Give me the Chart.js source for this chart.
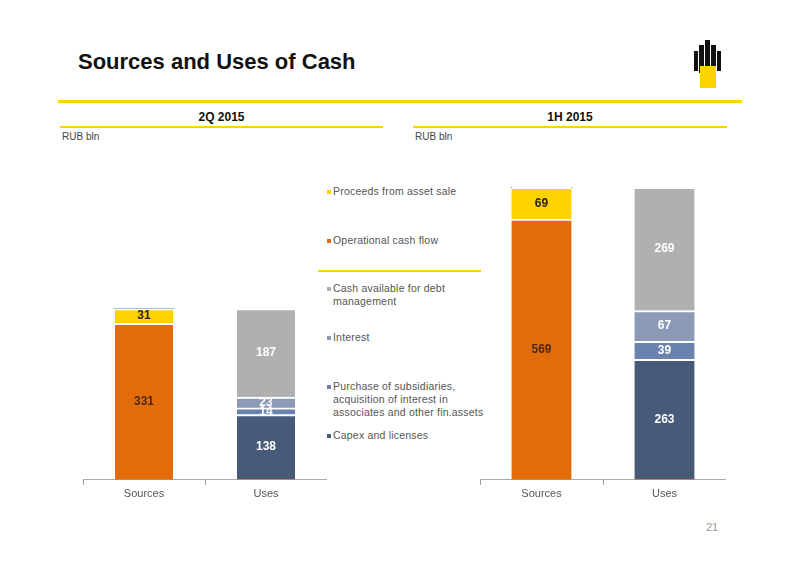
<!DOCTYPE html>
<html><head><meta charset="utf-8">
<script src="https://cdn.jsdelivr.net/npm/chart.js@4"></script>
<style>
body{margin:0;width:800px;height:566px;background:#fff;font-family:"Liberation Sans",Arial,sans-serif;position:relative;overflow:hidden}
.a{position:absolute}
.hl{position:absolute;background:#FFD200}
.sec{position:absolute;font-weight:bold;font-size:12px;color:#111;text-align:center}
.rub{position:absolute;font-size:10px;color:#444}
.lg{position:absolute;left:333px;font-size:10.5px;color:#555;line-height:13px;width:160px;letter-spacing:0.2px}
.lg i{position:absolute;left:-6px;top:5px;width:4px;height:4px}
</style></head><body>
<div class="a" style="left:78px;top:49px;font-size:22px;font-weight:bold;color:#111">Sources and Uses of Cash</div>
<svg class="a" style="left:690px;top:38px" width="36" height="52" viewBox="0 0 36 52">
<g fill="#111"><rect x="15" y="2" width="5" height="30"/><rect x="9" y="7" width="5" height="28"/><rect x="21" y="7" width="5" height="28"/><rect x="4" y="13" width="4" height="20"/><rect x="27" y="13" width="4" height="20"/></g>
<rect x="10" y="28" width="16" height="22" fill="#FFD200"/></svg>
<div class="hl" style="left:58px;top:100px;width:684px;height:3px"></div>
<div class="sec" style="left:60px;top:110px;width:323px">2Q 2015</div>
<div class="hl" style="left:60px;top:126px;width:323px;height:2px"></div>
<div class="sec" style="left:413px;top:110px;width:314px">1H 2015</div>
<div class="hl" style="left:413px;top:126px;width:314px;height:2px"></div>
<div class="rub" style="left:62px;top:131px">RUB bln</div>
<div class="rub" style="left:415px;top:131px">RUB bln</div>
<div class="hl" style="left:318px;top:270px;width:163px;height:2px"></div>
<div class="lg" style="top:185px"><i style="background:#FFD200"></i>Proceeds from asset sale</div>
<div class="lg" style="top:234px"><i style="background:#E36C0A"></i>Operational cash flow</div>
<div class="lg" style="top:282px"><i style="background:#B0B0B0"></i>Cash available for debt management</div>
<div class="lg" style="top:331px"><i style="background:#8C9AB5"></i>Interest</div>
<div class="lg" style="top:380px"><i style="background:#6A82AE"></i>Purchase of subsidiaries, acquisition of interest in associates and other fin.assets</div>
<div class="lg" style="top:429px"><i style="background:#475A7A"></i>Capex and licenses</div>
<div class="a" style="left:706px;top:521px;font-size:11px;color:#999">21</div>
<div class="a" style="left:60px;top:286px;width:267px;height:218px"><canvas id="c1"></canvas></div>
<div class="a" style="left:472px;top:159px;width:254px;height:345px"><canvas id="c2"></canvas></div>
<script>
const categories=["Sources","Uses"];
const seriesNames=["Operational cash flow","Proceeds from asset sale","Capex and licenses","Purchase of subsidiaries, acquisition of interest in associates and other fin.assets","Interest","Cash available for debt management"];
const q2Values=[[331,0],[31,0],[0,138],[0,14],[0,23],[0,187]];
const h1Values=[[569,0],[69,0],[0,263],[0,39],[0,67],[0,269]];
const colors=["#E36C0A","#FFD200","#475A7A","#6A82AE","#8C9AB5","#B0B0B0"];
const labelColors=["#4a2a10","#222","#fff","#fff","#fff","#fff"];
const lbl={id:'lbl',afterDatasetsDraw(ch){const c=ch.ctx;c.save();c.font='bold 12px "Liberation Sans",Arial';c.textAlign='center';c.textBaseline='middle';
ch.data.datasets.forEach((ds,i)=>{ch.getDatasetMeta(i).data.forEach((b,j)=>{const v=ds.data[j];if(!v)return;c.fillStyle=labelColors[i];c.fillText(v,b.x,(b.y+b.base)/2);});});c.restore();}};
function make(id,vals,max,bw,pl){new Chart(document.getElementById(id),{type:'bar',
data:{labels:categories,datasets:vals.map((v,i)=>({label:seriesNames[i],data:v,backgroundColor:colors[i],borderColor:'#fff',borderWidth:{top:2},borderSkipped:'bottom',barThickness:bw}))},
options:{responsive:true,maintainAspectRatio:false,animation:false,layout:{padding:{left:pl,right:0,top:0}},
plugins:{legend:{display:false},tooltip:{enabled:false}},
scales:{x:{stacked:true,grid:{display:true,drawOnChartArea:false,offset:true,tickLength:5,color:'#999'},border:{color:'#aaa'},ticks:{color:'#555',font:{size:11}}},
y:{stacked:true,display:false,min:0,max:max}}},plugins:[lbl]});}
make('c1',q2Values,410,58,23);
make('c2',h1Values,700,60,8);
</script></body></html>
